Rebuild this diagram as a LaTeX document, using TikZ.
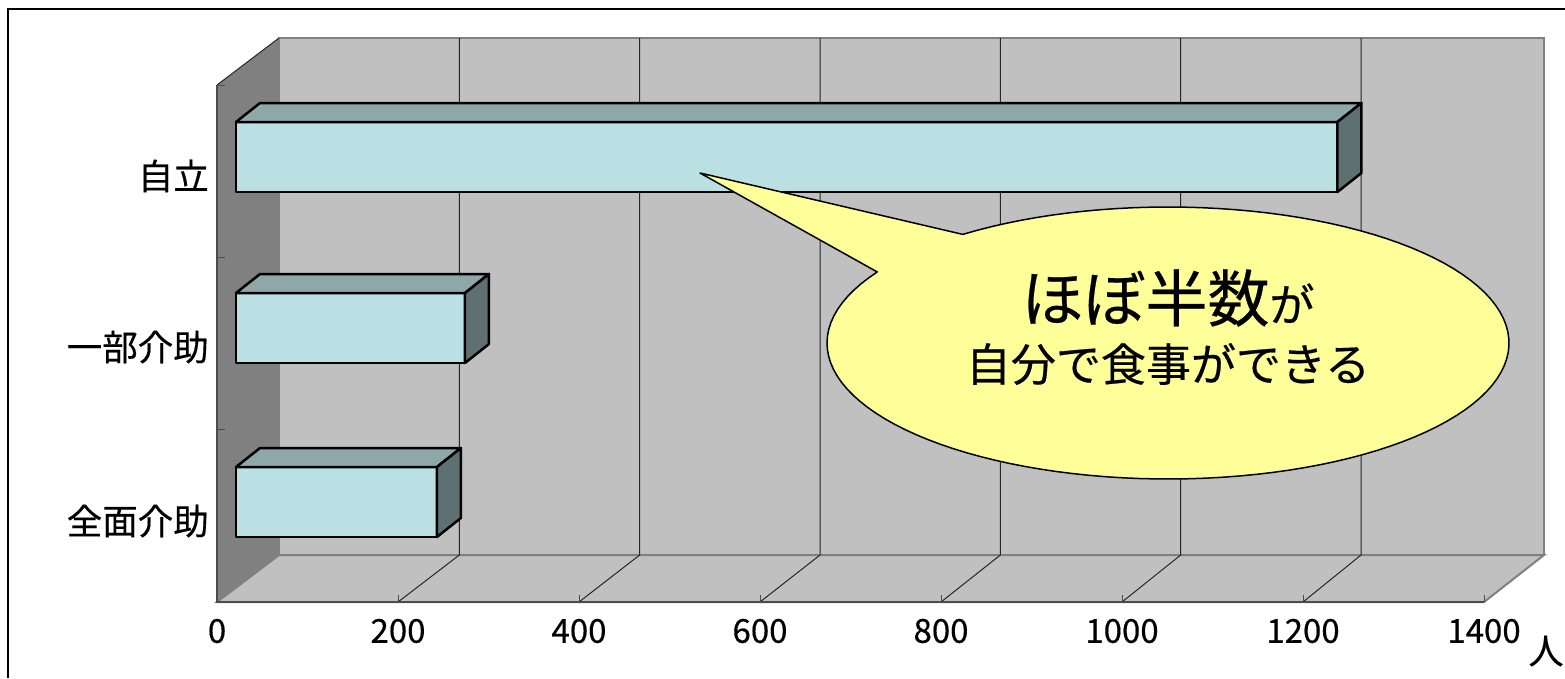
\documentclass[tikz,border=0pt]{standalone}
\usepackage{fontspec}
\setmainfont{Noto Sans CJK JP}[FakeBold=0.4]
\definecolor{wallgray}{RGB}{192,192,192}
\definecolor{sidegray}{RGB}{128,128,128}
\definecolor{barface}{RGB}{186,224,227}
\definecolor{bartop}{RGB}{142,168,170}
\definecolor{barside}{RGB}{94,112,114}
\definecolor{calloutfill}{RGB}{255,255,153}
\begin{document}
\begin{tikzpicture}[x=1pt,y=-1pt,
    wall/.style={fill=wallgray,draw=sidegray,line width=2pt},
    gridline/.style={draw=black!85,line width=1pt},
    axisline/.style={draw=black!70,line width=2pt},
    barpart/.style={draw=black,line width=2.5pt,line join=round},
    catlabel/.style={anchor=east,inner sep=0pt,font=\fontsize{35.5}{40}\selectfont},
    numlabel/.style={inner sep=0pt,font=\fontsize{33}{38}\selectfont},
    callout/.style={fill=calloutfill,draw=black,line width=1.5pt,line join=round}]
  \useasboundingbox (0,0) rectangle (1565,678);
  \fill[white] (0,0) rectangle (1565,678);
  \draw[line width=1.5pt] (8,678) -- (8,9) -- (1565,9);
  \filldraw[wall] (279,38) rectangle (1544,555);
  \filldraw[wall] (217,602) -- (279,555) -- (1544,555) -- (1484,602) -- cycle;
  \fill[sidegray] (217,85) -- (279,38) -- (279,555) -- (217,602) -- cycle;
  \draw[gridline] (217,85) -- (279,38);
  \foreach \v in {200,400,...,1200}{%
    \draw[gridline] ({279+\v*0.9017},38) -- ({279+\v*0.9017},555) -- ({217+\v*0.905},602);
  }
  \draw[axisline] (217,85) -- (217,602) -- (1484,602);
  \foreach \y in {85,257,429,602}{%
    \draw[axisline,line width=1pt] (217,\y) -- (225,\y);
  }
  \foreach \v in {0,200,...,1400}{%
    \draw[axisline,line width=1pt] ({217+\v*0.905},602) -- ({217+\v*0.905},595);
    \node[numlabel] (n\v) at ({217+\v*0.905},631) {\v};
  }
  \node[numlabel,font=\fontsize{35}{40}\selectfont] (unit) at (1546,651) {人};
  \foreach \y/\v/\n/\t in {122/1217/jiritsu/自立, 293/253/ichibu/一部介助, 467/222/zenmen/全面介助}{%
    \filldraw[barpart,fill=barface] (236,\y) rectangle ({236+\v*0.905},\y+70);
    \filldraw[barpart,fill=bartop] (236,\y) -- (260,\y-19) -- ({260+\v*0.905},\y-19) -- ({236+\v*0.905},\y) -- cycle;
    \filldraw[barpart,fill=barside] ({236+\v*0.905},\y) -- ({260+\v*0.905},\y-19) -- ({260+\v*0.905},\y+51) -- ({236+\v*0.905},\y+70) -- cycle;
    \node[catlabel] (\n) at (209,\y+54) {\t};
  }
  \filldraw[callout] (700,173) -- plot[domain=233:571.5,samples=120] ({1168+341*cos(\x)},{343+136*sin(\x)}) -- cycle;
  \node[inner sep=0pt] (msgtop) at (1168,298) {\fontsize{62}{66}\selectfont ほぼ半数\fontsize{45}{50}\selectfont が};
  \node[inner sep=0pt,font=\fontsize{45}{50}\selectfont] (msgbottom) at (1168,364) {自分で食事ができる};
\end{tikzpicture}
\end{document}
